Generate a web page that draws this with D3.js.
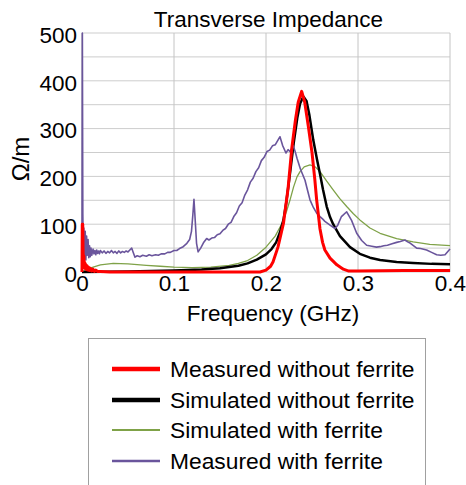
<!DOCTYPE html>
<html>
<head>
<meta charset="utf-8">
<script src="https://cdn.jsdelivr.net/npm/d3@7"></script>
<style>
  body { margin: 0; background: #fff; }
  svg { display: block; font-family: "Liberation Sans", Arial, sans-serif; }
</style>
</head>
<body>
<svg id="chart" width="466" height="485"></svg>
<script>
const xTicks = [0, 0.1, 0.2, 0.3, 0.4];
const xTickLabels = ["0", "0.1", "0.2", "0.3", "0.4"];
const yTicks = [0, 100, 200, 300, 400, 500];
const yGrid = [0, 50, 100, 150, 200, 250, 300, 350, 400, 450, 500];

const seriesNames = ["Measured without ferrite", "Simulated without ferrite", "Simulated with ferrite", "Measured with ferrite"];

// [frequency GHz, impedance Ohm/m]
const measuredNoFerrite = [
  [0,0],[0.0003,100],[0.0008,100],[0.0012,40],[0.0016,22],[0.002,34],[0.0025,9],[0.003,20],[0.0035,7],
  [0.004,16],[0.0047,5],[0.0055,13],[0.0062,4],[0.007,10],[0.008,3],[0.009,8],[0.0105,2],[0.012,6],
  [0.0135,1],[0.015,4],[0.017,1],[0.02,1],[0.03,0],[0.1,0],[0.19,0],[0.1935,0],[0.2,4],[0.205,12],
  [0.2076,21],[0.213,52],[0.219,102],[0.224,175],[0.228,258],[0.232,318],[0.235,355],[0.2388,378],
  [0.242,356],[0.246,305],[0.25,250],[0.253,195],[0.255,152],[0.2587,90],[0.2615,62],[0.264,46],
  [0.2696,29],[0.277,15],[0.284,6],[0.29,2],[0.3,2],[0.35,3],[0.4,3]
];

const simulatedNoFerrite = [
  [0,0],[0.05,1],[0.1,3],[0.13,5],[0.15,8],[0.17,13],[0.18,18],[0.19,26],[0.2,37],[0.206,48],
  [0.211,62],[0.215,82],[0.219,109],[0.222,145],[0.226,205],[0.23,268],[0.234,322],[0.237,352],
  [0.2406,367],[0.244,358],[0.247,330],[0.2514,276],[0.2555,235],[0.2587,205],[0.262,172],
  [0.266,137],[0.2696,115],[0.273,100],[0.2804,75],[0.2913,52],[0.302,38],[0.313,30],[0.324,25],
  [0.342,21],[0.36,19],[0.38,17],[0.4,16]
];

const simulatedFerrite = [
  [0,0],[0.0087,8],[0.02,15],[0.034,18],[0.05,17],[0.07,14],[0.085,12],[0.1,10],[0.12,9],[0.14,10],
  [0.16,14],[0.17,18],[0.18,24],[0.19,35],[0.2,52],[0.21,75],[0.2175,102],[0.222,125],[0.226,150],
  [0.23,178],[0.2337,199],[0.237,210],[0.2415,220],[0.2478,224],[0.2535,220],[0.2587,210],
  [0.266,190],[0.273,172],[0.28,154],[0.2877,137],[0.295,122],[0.302,109],[0.313,92],[0.324,81],
  [0.342,70],[0.36,63],[0.378,58],[0.4,55]
];

const measuredFerrite = [
  [0,20],[0.0004,500],[0.0009,120],[0.0014,60],[0.002,92],[0.0028,30],[0.0035,85],[0.0042,25],
  [0.005,75],[0.0058,35],[0.0066,68],[0.0074,30],[0.0082,55],[0.009,32],[0.0098,50],[0.0106,35],
  [0.012,48],[0.013,38],[0.014,45],[0.015,36],[0.016,46],[0.017,39],[0.018,44],[0.019,38],[0.02,45],
  [0.022,40],[0.024,44],[0.026,39],[0.028,43],[0.03,40],[0.032,45],[0.034,40],[0.036,43],[0.038,39],
  [0.04,44],[0.042,40],[0.044,43],[0.046,41],[0.048,44],[0.05,42],[0.052,46],[0.054,50],[0.0555,42],
  [0.0576,31],[0.06,34],[0.063,32],[0.066,35],[0.07,33],[0.073,36],[0.076,34],[0.08,36],[0.083,35],
  [0.086,38],[0.09,38],[0.093,41],[0.096,41],[0.1,45],[0.103,45],[0.106,49],[0.11,53],[0.114,60],
  [0.117,68],[0.119,85],[0.1205,120],[0.1217,152],[0.123,110],[0.1245,60],[0.1262,42],[0.129,50],
  [0.132,61],[0.1355,70],[0.138,67],[0.141,71],[0.144,72],[0.147,78],[0.15,80],[0.153,87],[0.156,91],
  [0.159,100],[0.162,104],[0.165,116],[0.168,124],[0.171,138],[0.174,145],[0.177,161],[0.18,172],
  [0.183,188],[0.186,196],[0.189,210],[0.192,218],[0.195,233],[0.198,240],[0.201,252],[0.204,255],
  [0.207,264],[0.21,266],[0.213,276],[0.2152,283],[0.218,265],[0.2217,249],[0.224,256],[0.226,252],
  [0.2297,264],[0.232,250],[0.2337,238],[0.2375,215],[0.2424,192],[0.245,172],[0.2478,151],
  [0.2515,135],[0.2551,123],[0.2587,116],[0.262,110],[0.264,106],[0.2696,98],[0.275,91],[0.278,98],
  [0.282,116],[0.2877,126],[0.293,108],[0.2986,81],[0.304,66],[0.3094,56],[0.315,54],[0.32,52],
  [0.324,53],[0.328,55],[0.332,56],[0.337,59],[0.342,62],[0.346,64],[0.351,67],[0.354,63],[0.357,60],
  [0.3638,50],[0.368,49],[0.3746,46],[0.38,41],[0.3855,36],[0.39,35],[0.3946,36],[0.4,48]
];

const seriesData = [measuredNoFerrite, simulatedNoFerrite, simulatedFerrite, measuredFerrite];
const seriesColors = ["#ff0000", "#000000", "#7fa248", "#6a559c"];
const seriesWidths = [3, 2.5, 1.3, 1.6];
const legendWidths = [4.5, 4.5, 2.2, 2.5];

const svg = d3.select("#chart");
const x = d3.scaleLinear().domain([0, 0.4]).range([82, 450]);
const y = d3.scaleLinear().domain([0, 500]).range([272, 33]);

// grid
const grid = svg.append("g");
grid.selectAll("line.h").data(yGrid).join("line")
  .attr("x1", x(0)).attr("x2", x(0.4))
  .attr("y1", d => y(d)).attr("y2", d => y(d))
  .attr("stroke", "#cdcdcd").attr("stroke-width", 1);
grid.selectAll("line.v").data(xTicks).join("line")
  .attr("x1", d => x(d)).attr("x2", d => x(d))
  .attr("y1", y(0)).attr("y2", y(500))
  .attr("stroke", d => d === 0 ? "#a8a8a8" : "#c4c4c4").attr("stroke-width", 1);

// lines
const line = d3.line().x(d => x(d[0])).y(d => y(d[1]));
const order = [2, 1, 3, 0];
order.forEach(i => {
  svg.append("path")
    .datum(seriesData[i])
    .attr("fill", "none")
    .attr("stroke", seriesColors[i])
    .attr("stroke-width", seriesWidths[i])
    .attr("stroke-linejoin", "round")
    .attr("d", line);
});

// axes
const yAxis = svg.append("g")
  .attr("transform", `translate(${x(0)},2)`)
  .call(d3.axisLeft(y).tickValues(yTicks).tickSize(0).tickPadding(5));
yAxis.select(".domain").remove();
yAxis.selectAll("text").attr("font-size", 22.5).attr("fill", "#000")
  .style("font-family", '"Liberation Sans", Arial, sans-serif');

const xAxis = svg.append("g")
  .attr("transform", `translate(0,${y(0)})`)
  .call(d3.axisBottom(x).tickValues(xTicks).tickFormat((d, i) => xTickLabels[i]).tickSize(0).tickPadding(3));
xAxis.select(".domain").remove();
xAxis.selectAll("text").attr("font-size", 22.5).attr("fill", "#000")
  .style("font-family", '"Liberation Sans", Arial, sans-serif');

// titles
svg.append("text").attr("x", 268.5).attr("y", 27).attr("text-anchor", "middle")
  .attr("font-size", 22.5).text("Transverse Impedance");
svg.append("text").attr("x", 273).attr("y", 321).attr("text-anchor", "middle")
  .attr("font-size", 22.5).text("Frequency (GHz)");
svg.append("text").attr("transform", "translate(28.5,159) rotate(-90)").attr("text-anchor", "middle")
  .attr("font-size", 24).text("Ω/m");

// legend
const lg = svg.append("g");
lg.append("rect").attr("x", 88.5).attr("y", 338.5).attr("width", 337).attr("height", 170)
  .attr("fill", "#fff").attr("stroke", "#a0a0a0").attr("stroke-width", 1);
const rowY = [369, 400, 430, 461];
seriesNames.forEach((name, i) => {
  lg.append("line").attr("x1", 112).attr("x2", 160).attr("y1", rowY[i]).attr("y2", rowY[i])
    .attr("stroke", seriesColors[i]).attr("stroke-width", legendWidths[i]);
  lg.append("text").attr("x", 170).attr("y", rowY[i] + 8).attr("font-size", 22.8).text(name);
});
</script>
</body>
</html>
